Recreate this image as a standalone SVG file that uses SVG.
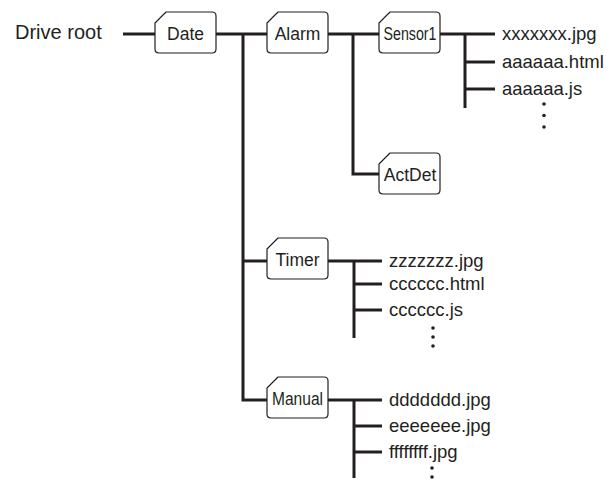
<svg xmlns="http://www.w3.org/2000/svg" width="607" height="483" viewBox="0 0 607 483">
<style>
.box{fill:#fff;stroke:#231f20;stroke-width:1.2;stroke-linejoin:round}
.lbl{font-family:"Liberation Sans",Arial,sans-serif;font-size:17.5px;fill:#231f20;text-anchor:middle}
.file{font-family:"Liberation Sans",Arial,sans-serif;font-size:18.5px;fill:#231f20}
.ln{fill:none;stroke:#231f20;stroke-width:3;stroke-linejoin:miter}
.dot{fill:#231f20}
</style>
<defs>
<path id="folder" d="M0,11 L11,0 H57 Q61,0 61,4 V37 Q61,41 57,41 H4 Q0,41 0,37 Z"/>
</defs>
<rect width="607" height="483" fill="#fff"/>
<text x="15" y="39" font-family="'Liberation Sans',Arial,sans-serif" font-size="20" fill="#231f20">Drive root</text>
<g id="connectors">
<path class="ln" d="M123,34 H155"/>
<path class="ln" d="M216,34 H267"/>
<path class="ln" d="M243,34 V400 H267"/>
<path class="ln" d="M243,261 H267"/>
<path class="ln" d="M328,34 H379"/>
<path class="ln" d="M353,34 V174 H379"/>
<path class="ln" d="M440,34 H495"/>
<path class="ln" d="M465,34 V108"/>
<path class="ln" d="M465,62 H495"/>
<path class="ln" d="M465,89 H495"/>
<path class="ln" d="M328,261 H382"/>
<path class="ln" d="M354,261 V338"/>
<path class="ln" d="M354,284 H382"/>
<path class="ln" d="M354,310 H382"/>
<path class="ln" d="M328,400 H382"/>
<path class="ln" d="M354,400 V478"/>
<path class="ln" d="M354,426 H382"/>
<path class="ln" d="M354,452 H382"/>
</g>
<g id="date"><use href="#folder" class="box" x="155" y="12"/><text class="lbl" x="185.5" y="40">Date</text></g>
<g id="alarm"><use href="#folder" class="box" x="267" y="12"/><text class="lbl" x="297.5" y="40">Alarm</text></g>
<g id="sensor1"><use href="#folder" class="box" x="379" y="12"/><text class="lbl" x="410" y="40" textLength="53" lengthAdjust="spacingAndGlyphs">Sensor1</text></g>
<g id="actdet"><use href="#folder" class="box" x="379" y="153"/><text class="lbl" x="410" y="181">ActDet</text></g>
<g id="timer"><use href="#folder" class="box" x="267" y="238"/><text class="lbl" x="297.5" y="266">Timer</text></g>
<g id="manual"><use href="#folder" class="box" x="267" y="377"/><text class="lbl" x="297.5" y="405" textLength="51" lengthAdjust="spacingAndGlyphs">Manual</text></g>
<g id="sensor1-files">
<text class="file" x="502" y="40">xxxxxxx.jpg</text>
<text class="file" x="502" y="68">aaaaaa.html</text>
<text class="file" x="502" y="95">aaaaaa.js</text>
<circle class="dot" cx="544" cy="104" r="1.8"/><circle class="dot" cx="544" cy="115.5" r="1.8"/><circle class="dot" cx="544" cy="127" r="1.8"/>
</g>
<g id="timer-files">
<text class="file" x="389" y="267">zzzzzzz.jpg</text>
<text class="file" x="389" y="290">cccccc.html</text>
<text class="file" x="389" y="316">cccccc.js</text>
<circle class="dot" cx="433" cy="328" r="1.8"/><circle class="dot" cx="433" cy="337" r="1.8"/><circle class="dot" cx="433" cy="346" r="1.8"/>
</g>
<g id="manual-files">
<text class="file" x="389" y="406">ddddddd.jpg</text>
<text class="file" x="389" y="432">eeeeeee.jpg</text>
<text class="file" x="389" y="458">ffffffff.jpg</text>
<circle class="dot" cx="432" cy="468" r="1.8"/><circle class="dot" cx="432" cy="477" r="1.8"/>
</g>
</svg>
